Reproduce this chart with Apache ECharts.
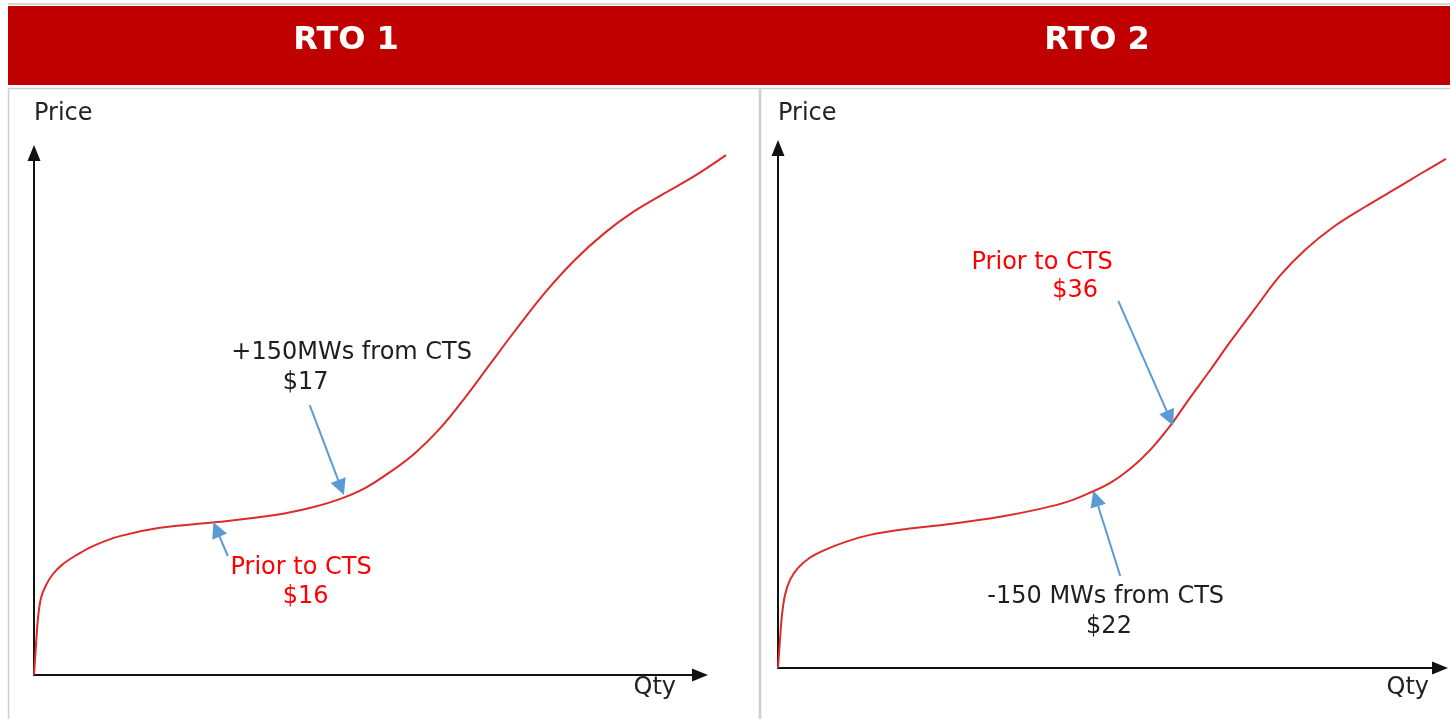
<!DOCTYPE html>
<html>
<head>
<meta charset="utf-8">
<title>RTO 1 / RTO 2 supply curves</title>
<script src="https://cdn.jsdelivr.net/npm/echarts@6/dist/echarts.min.js"></script>
<style>
html,body{margin:0;padding:0;background:#fff}
#main{width:1450px;height:719px}
</style>
</head>
<body>
<div id="main"></div>
<script>
var panels = ['RTO 1', 'RTO 2']

// supply curves [qty, price], arbitrary units, axes run 0-100 (curve runs a little past the qty arrow)
var curve1 = [[0,0],[0.3,5.75],[0.6,10.9],[1.05,14.75],[1.8,17.2],[2.85,19.35],[4.2,21.1],[6.15,22.8],
  [8.86,24.7],[12.9,26.6],[18.9,28.2],[27.5,29.3],[36.2,30.65],[41.4,32.0],[45.9,33.7],[49.7,35.8],
  [53.5,38.9],[57.2,42.5],[61.0,47.3],[64.7,53.1],[68.5,59.6],[72.2,65.9],[76.7,73.2],[81.2,79.5],
  [85.7,84.7],[90.2,88.9],[94.7,92.3],[99.2,95.6],[103.9,99.6]]
var curve2 = [[0,0],[0.3,5.4],[0.6,10.2],[1.05,14.0],[1.8,16.9],[3.0,19.2],[4.8,21.2],[7.1,22.7],
  [10.1,24.2],[13.9,25.6],[19.2,26.7],[26.0,27.7],[34.0,29.2],[39.6,30.6],[44.0,32.1],[47.1,33.7],
  [50.2,35.6],[53.2,38.3],[56.2,41.9],[59.2,46.5],[62.2,51.9],[65.3,57.3],[68.3,62.7],[72.1,69.2],
  [75.8,75.4],[79.6,80.4],[84.1,85.0],[88.7,88.7],[93.2,92.1],[97.0,95.0],[100.9,97.9]]

// callout arrows: [from, to]
var arrows1 = [[[41.4,51.7],[46.1,35.9]], [[29.1,22.8],[27.4,27.9]]]
var arrows2 = [[[51.4,70.6],[59.2,48.0]], [[51.7,17.7],[48.0,32.6]]]

// callout texts: [text, qty, price, kind]
var notes1 = [['+150MWs from CTS',47.7,61.7,'cts'], ['$17',40.8,55.9,'cts'],
  ['Prior to CTS',40.1,20.5,'prior'], ['$16',40.8,14.9,'prior']]
var notes2 = [['Prior to CTS',39.9,77.9,'prior'], ['$36',44.9,72.5,'prior'],
  ['-150 MWs from CTS',49.5,13.7,'cts'], ['$22',50.0,7.9,'cts']]

var FONT = 'DejaVu Sans'
var EXT = [1.06, 1.015]   // curve grids are the axis grids stretched right, same scale
var chart = echarts.init(document.getElementById('main'))

var axisGrids = [
  {left:34, top:153, width:666, height:522},
  {left:778, top:148, width:662, height:520}
]
var curveGrids = axisGrids.map(function(g, i){
  return {left:g.left, top:g.top, width:g.width*EXT[i], height:g.height}
})

var hidden = {axisLine:{show:false}, axisTick:{show:false}, axisLabel:{show:false}, splitLine:{show:false}}

function xAxis(i, gap, down){
  return {
    type:'value', gridIndex:i, min:0, max:100,
    name:'Qty', nameLocation:'end', nameGap:gap,
    nameTextStyle:{align:'right', verticalAlign:'top', lineHeight:down*2, fontSize:24, fontFamily:FONT, color:'#222'},
    axisLine:{show:true, symbol:['none','triangle'], symbolSize:[13,16], lineStyle:{color:'#111', width:2}},
    axisTick:{show:false}, axisLabel:{show:false}, splitLine:{show:false}
  }
}
function yAxis(i, gap){
  return {
    type:'value', gridIndex:i, min:0, max:100,
    name:'Price', nameLocation:'end', nameGap:gap,
    nameTextStyle:{align:'left', verticalAlign:'middle', fontSize:24, fontFamily:FONT, color:'#222'},
    axisLine:{show:true, symbol:['none','triangle'], symbolSize:[13,16], lineStyle:{color:'#111', width:2}},
    axisTick:{show:false}, axisLabel:{show:false}, splitLine:{show:false}
  }
}

function curveSeries(ax, data, arrows){
  return {
    type:'line', xAxisIndex:ax, yAxisIndex:ax, data:data, smooth:0.35, showSymbol:false,
    lineStyle:{color:'#dd2a2a', width:2}, silent:true,
    markLine:{
      silent:true, symbol:['none','triangle'], symbolSize:16, animation:false,
      label:{show:false},
      lineStyle:{color:'#5b9bd5', width:2, type:'solid'},
      data:arrows.map(function(a){ return [{coord:a[0]}, {coord:a[1]}] })
    }
  }
}

function noteSeries(ax, notes){
  return {
    type:'scatter', xAxisIndex:ax, yAxisIndex:ax, symbolSize:0, silent:true,
    itemStyle:{opacity:1},
    data:notes.map(function(n){
      return {
        value:[n[1], n[2]],
        label:{show:true, position:'inside', formatter:n[0], fontSize:24, fontFamily:FONT, opacity:1,
          color:n[3] === 'prior' ? '#ff0000' : '#1e1e1e'}
      }
    })
  }
}

var graphic = [
  {type:'rect', shape:{x:8, y:3, width:1442, height:2}, style:{fill:'#d6d6d6'}},
  {type:'rect', shape:{x:8, y:6, width:1442, height:79}, style:{fill:'#c00000'}},
  {type:'rect', shape:{x:8.5, y:88.5, width:751, height:640}, style:{fill:'none', stroke:'#cfcfcf', lineWidth:1.5}},
  {type:'rect', shape:{x:760.5, y:88.5, width:700, height:640}, style:{fill:'none', stroke:'#cfcfcf', lineWidth:1.5}}
]
var titleX = [346, 1097]
panels.forEach(function(p, i){
  graphic.push({type:'text', x:titleX[i], y:41,
    style:{text:p, fill:'#fff', align:'center', verticalAlign:'middle', fontSize:32, fontWeight:'bold', fontFamily:FONT}})
})

chart.setOption({
  animation:false,
  backgroundColor:'#fff',
  graphic:graphic,
  grid:axisGrids.concat(curveGrids),
  xAxis:[xAxis(0, -24, 13), xAxis(1, -11, 20),
    Object.assign({type:'value', gridIndex:2, min:0, max:100*EXT[0]}, hidden),
    Object.assign({type:'value', gridIndex:3, min:0, max:100*EXT[1]}, hidden)],
  yAxis:[yAxis(0, 39), yAxis(1, 34),
    Object.assign({type:'value', gridIndex:2, min:0, max:100}, hidden),
    Object.assign({type:'value', gridIndex:3, min:0, max:100}, hidden)],
  series:[
    curveSeries(2, curve1, arrows1),
    curveSeries(3, curve2, arrows2),
    noteSeries(2, notes1),
    noteSeries(3, notes2)
  ]
})
</script>
</body>
</html>
